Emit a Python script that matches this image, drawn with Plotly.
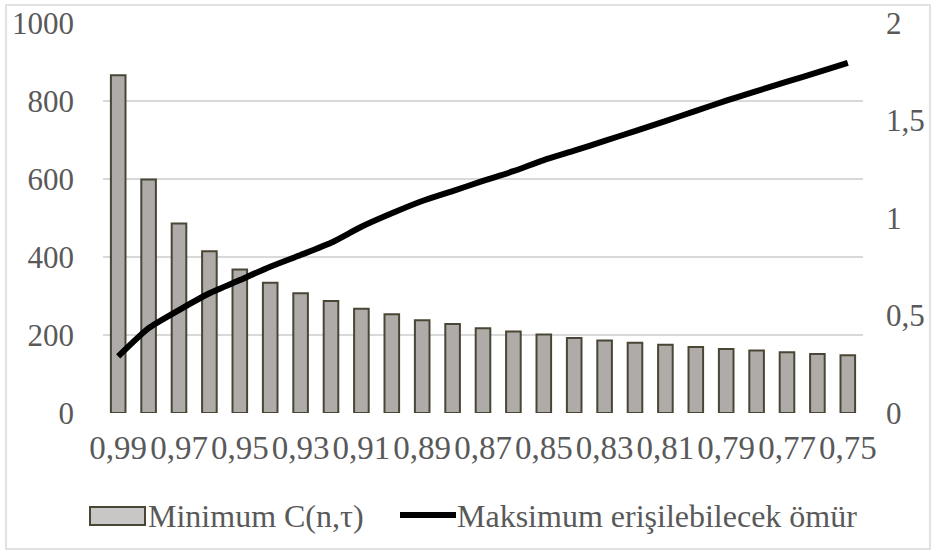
import plotly.graph_objects as go

# Reliability levels (category axis, left to right)
reliability = ["0,99", "0,98", "0,97", "0,96", "0,95", "0,94", "0,93", "0,92", "0,91",
               "0,90", "0,89", "0,88", "0,87", "0,86", "0,85", "0,84", "0,83", "0,82",
               "0,81", "0,80", "0,79", "0,78", "0,77", "0,76", "0,75"]

# Minimum cost C(n, tau) per reliability level (left axis)
min_cost = [866, 599, 486, 415, 368, 334, 307, 287, 267, 253, 238, 228, 217,
            209, 201, 192, 186, 180, 175, 169, 164, 160, 156, 151, 148]

# Maximum attainable lifetime (right axis)
max_life = [0.29, 0.435, 0.528, 0.614, 0.682, 0.75, 0.81, 0.873, 0.955, 1.024,
            1.087, 1.138, 1.19, 1.24, 1.297, 1.345, 1.395, 1.446, 1.497, 1.549,
            1.602, 1.651, 1.699, 1.747, 1.796]

left_ticks = [0, 200, 400, 600, 800, 1000]
right_ticks = [0, 0.5, 1, 1.5, 2]
x_tick_labels = reliability[::2]

bar_name = "Minimum C(n,τ)"
line_name = "Maksimum erişilebilecek ömür"

FONT = "Liberation Serif"
TEXT = "#595959"
GRID = "#d9d9d9"
BAR_FILL = "#aeaba8"
BAR_EDGE = "#4a4636"

W, H = 931, 551
L, R, T, B = 103, 68, 23, 138
PW, PH = W - L - R, H - T - B


def px_x(px):
    return (px - L) / PW


def px_y(py):
    return (H - B - py) / PH


fig = go.Figure()
fig.add_trace(go.Bar(
    x=reliability, y=min_cost, name=bar_name, width=0.48,
    marker=dict(color=BAR_FILL, line=dict(color=BAR_EDGE, width=2)),
    showlegend=False,
))
fig.add_trace(go.Scatter(
    x=reliability, y=max_life, name=line_name, yaxis="y2", mode="lines",
    line=dict(color="#000000", width=6, shape="spline", smoothing=0.6),
    showlegend=False,
))

fig.update_layout(
    width=W, height=H,
    margin=dict(l=L, r=R, t=T, b=B, autoexpand=False),
    paper_bgcolor="white", plot_bgcolor="white",
    separators=",.",
    font=dict(family=FONT, size=31, color=TEXT),
    xaxis=dict(
        type="category", tickmode="array", tickvals=x_tick_labels,
        ticktext=x_tick_labels, showgrid=False, ticks="", showline=False,
        zeroline=False, ticklabelstandoff=12, tickangle=0, automargin=False,
        tickfont=dict(family=FONT, size=33, color=TEXT),
    ),
    yaxis=dict(
        range=[0, 1000], tickvals=left_ticks, showgrid=True, gridcolor=GRID,
        gridwidth=1.5, zeroline=False, ticks="", showline=False,
        ticklabelstandoff=28, automargin=False,
    ),
    yaxis2=dict(
        range=[0, 2], tickvals=right_ticks, overlaying="y", side="right",
        showgrid=False, zeroline=False, ticks="", showline=False,
        ticklabelstandoff=22, automargin=False,
    ),
    showlegend=False,
)

# outer chart border
fig.add_shape(type="rect", xref="paper", yref="paper",
              x0=px_x(6), x1=px_x(930), y0=px_y(5), y1=px_y(549),
              line=dict(color=GRID, width=1.5), fillcolor="rgba(0,0,0,0)", layer="below")

# legend: bar swatch + label, line swatch + label
ly = 516
fig.add_shape(type="rect", xref="paper", yref="paper",
              x0=px_x(90), x1=px_x(145), y0=px_y(525), y1=px_y(507),
              line=dict(color=BAR_EDGE, width=2), fillcolor="#c9c7c5")
fig.add_annotation(xref="paper", yref="paper", x=px_x(146), y=px_y(ly),
                   text=bar_name, showarrow=False, xanchor="left", yanchor="middle",
                   font=dict(family=FONT, size=32, color=TEXT))
fig.add_shape(type="line", xref="paper", yref="paper",
              x0=px_x(400), x1=px_x(456), y0=px_y(ly - 1), y1=px_y(ly - 1),
              line=dict(color="#000000", width=6))
fig.add_annotation(xref="paper", yref="paper", x=px_x(455), y=px_y(ly),
                   text=line_name, showarrow=False, xanchor="left", yanchor="middle",
                   font=dict(family=FONT, size=32, color=TEXT))

fig.write_html("out.html")
